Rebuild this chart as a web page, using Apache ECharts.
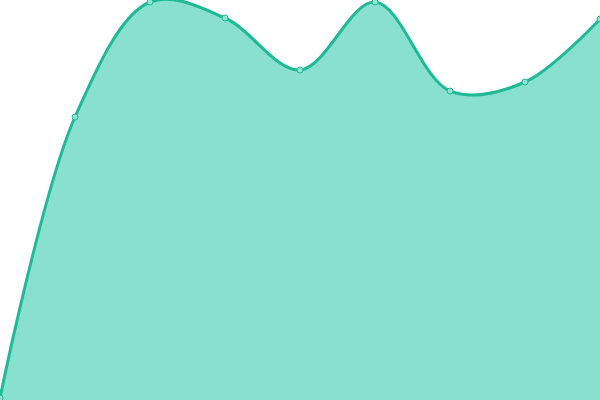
<!DOCTYPE html>
<html><head><meta charset="utf-8">
<script src="https://cdn.jsdelivr.net/npm/echarts@6/dist/echarts.min.js"></script>
<style>html,body{margin:0;padding:0;background:#fff}#c{width:600px;height:400px}</style>
</head><body><div id="c"></div>
<script>
const categories = ['A','B','C','D','E','F','G','H','I'];
const values = [2, 283, 398, 382, 330, 398, 309, 318, 381];
const LINE = '#1fb996';
const FILL = '#8ae0cf';

// centripetal Catmull-Rom (alpha 0.5) bezier path through pixel points
function catmullPath(pts) {
  const alpha = 0.5, eps = 1e-12;
  let d = 'M' + pts[0][0] + ',' + pts[0][1];
  const n = pts.length;
  for (let i = 0; i < n - 1; i++) {
    const p0 = pts[i - 1] || pts[i], p1 = pts[i], p2 = pts[i + 1], p3 = pts[i + 2] || pts[i + 1];
    const dist = (a, b) => Math.hypot(b[0] - a[0], b[1] - a[1]);
    const l01_2a = Math.pow(dist(p0, p1), alpha * 2), l01_a = Math.sqrt(l01_2a);
    const l12_2a = Math.pow(dist(p1, p2), alpha * 2), l12_a = Math.sqrt(l12_2a);
    const l23_2a = Math.pow(dist(p2, p3), alpha * 2), l23_a = Math.sqrt(l23_2a);
    let x1 = p1[0], y1 = p1[1], x2 = p2[0], y2 = p2[1];
    if (l01_a > eps) {
      const a = 2 * l01_2a + 3 * l01_a * l12_a + l12_2a, m = 3 * l01_a * (l01_a + l12_a);
      x1 = (x1 * a - p0[0] * l12_2a + p2[0] * l01_2a) / m;
      y1 = (y1 * a - p0[1] * l12_2a + p2[1] * l01_2a) / m;
    }
    if (l23_a > eps) {
      const b = 2 * l23_2a + 3 * l23_a * l12_a + l12_2a, m = 3 * l23_a * (l23_a + l12_a);
      x2 = (x2 * b + p1[0] * l23_2a - p3[0] * l12_2a) / m;
      y2 = (y2 * b + p1[1] * l23_2a - p3[1] * l12_2a) / m;
    }
    d += 'C' + x1 + ',' + y1 + ',' + x2 + ',' + y2 + ',' + p2[0] + ',' + p2[1];
  }
  return d;
}

const chart = echarts.init(document.getElementById('c'));
chart.setOption({
  animation: false,
  grid: {left: 0, right: 0, top: 0, bottom: 0},
  xAxis: {type: 'category', data: categories, boundaryGap: false, show: false},
  yAxis: {type: 'value', min: 0, max: 400, show: false},
  series: [{
    type: 'custom',
    data: values.map((v, i) => [i, v]),
    clip: false,
    renderItem: function (params, api) {
      if (params.dataIndex !== 0) return null;
      const pts = values.map((v, i) => api.coord([i, v]));
      const curve = catmullPath(pts);
      const b0 = api.coord([0, 0]), b1 = api.coord([values.length - 1, 0]);
      const area = curve + 'L' + b1[0] + ',' + b1[1] + 'L' + b0[0] + ',' + b0[1] + 'Z';
      return {
        type: 'group',
        children: [
          {type: 'path', shape: {pathData: area}, style: {fill: FILL, stroke: null}},
          {type: 'path', shape: {pathData: curve}, style: {fill: null, stroke: LINE, lineWidth: 3}}
        ]
      };
    },
    z: 1
  }, {
    type: 'line', data: values,
    symbol: 'circle', symbolSize: 6,
    lineStyle: {opacity: 0},
    itemStyle: {color: '#92e3d3', borderColor: LINE, borderWidth: 1},
    z: 3
  }]
});
</script></body></html>
